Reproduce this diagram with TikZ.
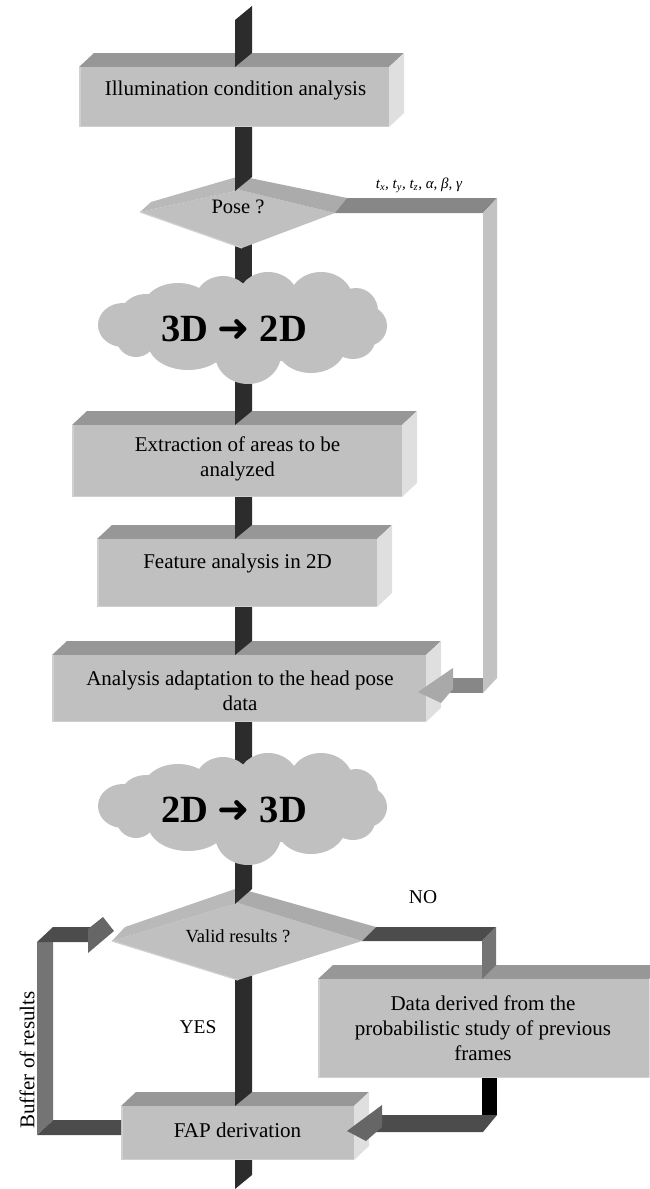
\documentclass[tikz,border=0pt]{standalone}
\usepackage{fontspec}
\setmainfont{Liberation Serif}
\newfontfamily\arrowfont{DejaVu Sans}

\definecolor{frontgray}{HTML}{C0C0C0}
\definecolor{topgray}{HTML}{979797}
\definecolor{sidegray}{HTML}{DFDFDF}
\definecolor{rimgray}{HTML}{D0D0D0}
\definecolor{spinegray}{HTML}{2C2C2C}
\definecolor{railmid}{HTML}{878787}
\definecolor{raillight}{HTML}{C2C2C2}
\definecolor{raildark}{HTML}{4C4C4C}
\definecolor{railside}{HTML}{747474}
\definecolor{headlight}{HTML}{A9A9A9}
\definecolor{headdark}{HTML}{666666}
\definecolor{bevellight}{HTML}{B9B9B9}
\definecolor{beveldark}{HTML}{ABABAB}

% 3D slab: name, left, front top, right, bottom (y grows downward)
\newcommand\slab[5]{%
  \fill[topgray] (#2,#3) -- (#2+15,#3-14) -- (#4+15,#3-14) -- (#4,#3) -- cycle;
  \fill[sidegray] (#4,#3) -- (#4+15,#3-14) -- (#4+15,#5-14) -- (#4,#5) -- cycle;
  \fill[frontgray] (#2,#3) rectangle (#4,#5);
  \draw[rimgray, line width=1.5] (#2+0.75,#3) -- (#2+0.75,#5-0.75) -- (#4,#5-0.75);
  \coordinate (#1) at ({(#2+#4)/2},{(#3+#5)/2});
}
% vertical spine piece from y=#1 down to a top face whose front edge is at y=#2
\newcommand\spine[2]{%
  \fill[spinegray] (235,#1) -- (252,#1) -- (252,#2-14) -- (235,#2) -- cycle;
}
% cloud made of overlapping puffs, centred on coordinate #2, named #1
\newcommand\puffcloud[2]{%
  \coordinate (#1) at #2;
  \begin{scope}[shift={#2}]
    \fill[frontgray]
      (0,0) ellipse [x radius=115, y radius=35]
      (-120,-3) ellipse [x radius=25, y radius=22]
      (-97,-14) ellipse [x radius=25, y radius=20]
      (-65,-20) ellipse [x radius=35, y radius=25]
      (-20,-27) ellipse [x radius=28, y radius=25]
      (25,-30) ellipse [x radius=30, y radius=26]
      (78,-28) ellipse [x radius=32, y radius=28]
      (113,-17) ellipse [x radius=22, y radius=23]
      (124,-2) ellipse [x radius=20, y radius=20]
      (110,12) ellipse [x radius=22, y radius=19]
      (68,17) ellipse [x radius=35, y radius=28]
      (5,26) ellipse [x radius=33, y radius=30]
      (-55,15) ellipse [x radius=40, y radius=27]
      (-107,9) ellipse [x radius=20, y radius=20];
  \end{scope}
}

\tikzset{
  boxtext/.style={align=center, inner sep=0, font=\fontsize{21}{25}\selectfont},
  plaintext/.style={inner sep=0, font=\fontsize{19.5}{23}\selectfont},
  cloudtext/.style={inner sep=0, font=\fontsize{38.5}{42}\selectfont\bfseries},
}

\begin{document}
\begin{tikzpicture}[x=1pt, y=-1pt]
\useasboundingbox (0,0) rectangle (649,1189);

% ---------- boxes ----------
\slab{illum}{79}{67}{389}{127}
\slab{extract}{72}{425}{402}{497}
\slab{feature}{97}{539}{377}{607}
\slab{adapt}{52}{655}{426}{722}
\slab{derived}{318}{979}{649}{1078}
\slab{fap}{121}{1106}{354}{1160}

% ---------- spine pieces landing on boxes / leaving diamonds ----------
\fill[spinegray] (235,20) -- (252,6) -- (252,53) -- (235,67) -- cycle;
\fill[spinegray] (235,230) rectangle (252,290);
\spine{370}{425}
\spine{497}{539}
\spine{607}{655}
\spine{722}{780}
\spine{960}{1106}
\fill[spinegray] (235,1160) -- (252,1160) -- (252,1175) -- (235,1189) -- cycle;

% ---------- decision: pose ----------
\coordinate (pL) at (140,212);  \coordinate (pT) at (240,190);
\coordinate (pR) at (335,213);  \coordinate (pB) at (242,248);
\coordinate (pBL) at (151,202); \coordinate (pBT) at (240,176);
\coordinate (pBR) at (347,198);
\fill[frontgray] (pL) -- (pT) -- (pR) -- (pB) -- cycle;
\fill[bevellight] (pL) -- (pBL) -- (pBT) -- (pT) -- cycle;
\fill[beveldark] (pT) -- (pBT) -- (pBR) -- (pR) -- cycle;
\draw[rimgray, line width=1.2] (pL) -- (pB);
\node[boxtext, font=\fontsize{20.5}{24}\selectfont] (pose) at (238,207) {Pose ?};

% ---------- decision: valid results ----------
\coordinate (vL) at (112,941);  \coordinate (vT) at (238,903);
\coordinate (vR) at (362,941);  \coordinate (vB) at (238,980);
\coordinate (vBL) at (125,927); \coordinate (vBT) at (238,888);
\coordinate (vBR) at (376,927);
\fill[frontgray] (vL) -- (vT) -- (vR) -- (vB) -- cycle;
\fill[bevellight] (vL) -- (vBL) -- (vBT) -- (vT) -- cycle;
\fill[beveldark] (vT) -- (vBT) -- (vBR) -- (vR) -- cycle;
\draw[rimgray, line width=1.2] (vL) -- (vB);
\node[plaintext, font=\fontsize{18.5}{22}\selectfont] (valid) at (238,936) {Valid results ?};

% ---------- spine pieces landing on diamonds ----------
\fill[spinegray] (235,127) -- (252,127) -- (252,177) -- (235,191) -- cycle;
\fill[spinegray] (235,840) -- (252,840) -- (252,889) -- (235,904) -- cycle;

% ---------- clouds ----------
\puffcloud{c1}{(243,328)}
\node[cloudtext] (c1t) at (234,329) {3D {\arrowfont\mdseries ➜} 2D};
\puffcloud{c2}{(243,809)}
\node[cloudtext] (c2t) at (234,810) {2D {\arrowfont\mdseries ➜} 3D};

% ---------- pose parameters feed into the adaptation step ----------
\fill[railmid] (pR) -- (pBR) -- (497,198) -- (483,213) -- cycle;
\fill[raillight] (483,213) -- (497,198) -- (497,678) -- (483,693) -- cycle;
\fill[railmid] (442,678) -- (483,678) -- (483,693) -- (442,693) -- cycle;
\fill[headlight] (418,692) -- (453,668) -- (453,689) -- (441,703) -- cycle;
\node[inner sep=0, font=\fontsize{15}{17}\selectfont\itshape] (params) at (419,185)
  {t\textsubscript{x}, t\textsubscript{y}, t\textsubscript{z}, α, β, γ};

% ---------- NO branch ----------
\fill[raildark] (vR) -- (vBR) -- (496,927) -- (482,941) -- cycle;
\fill[railside] (482,941) -- (496,927) -- (496,965) -- (482,979) -- cycle;
\node[plaintext] (no) at (423,897) {NO};

% ---------- derived data back to FAP ----------
\fill[black] (482,1078) rectangle (497,1115);
\fill[raildark] (368,1115) -- (497,1115) -- (483,1132) -- (368,1132) -- cycle;
\fill[headdark] (347,1131) -- (382,1105) -- (382,1127) -- (366,1141) -- cycle;

% ---------- buffer of results loop ----------
\fill[raildark] (37,1135) -- (53,1120) -- (121,1120) -- (121,1135) -- cycle;
\fill[railside] (37,942) -- (53,942) -- (53,1120) -- (37,1135) -- cycle;
\fill[raildark] (37,942) -- (53,927) -- (90,927) -- (90,942) -- cycle;
\fill[headdark] (88,929) -- (103,917) -- (114,931) -- (88,953) -- cycle;
\node[plaintext, font=\fontsize{21}{25}\selectfont, rotate=90] (buffer) at (27,1060) {Buffer of results};
\node[plaintext] (yes) at (198,1027) {YES};

% ---------- box texts ----------
\node[boxtext] (t-illum) at (235.5,90) {Illumination condition analysis};
\node[boxtext] (t-extract) at (237.5,459) {Extraction of areas to be\\analyzed};
\node[boxtext] (t-feature) at (237.5,563) {Feature analysis in 2D};
\node[boxtext] (t-adapt) at (240,691) {Analysis adaptation to the head pose\\data};
\node[boxtext] (t-derived) at (483,1028) {Data derived from the\\probabilistic study of previous\\frames};
\node[boxtext] (t-fap) at (237.5,1130) {FAP derivation};
\end{tikzpicture}
\end{document}
